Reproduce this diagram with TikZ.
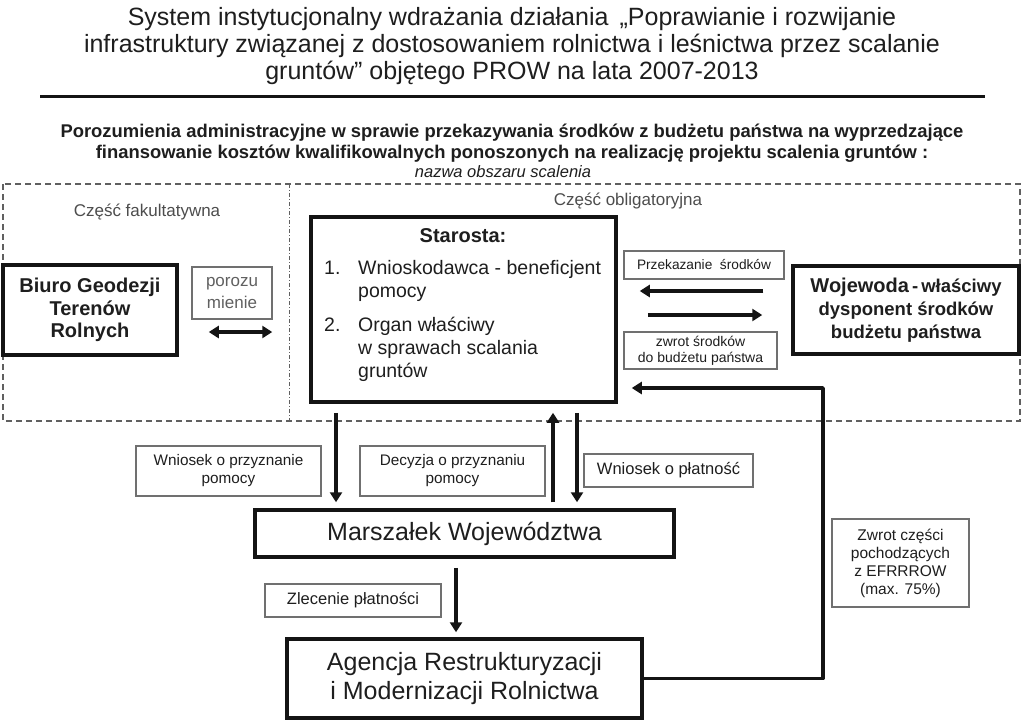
\documentclass[tikz,border=0pt]{standalone}
\usepackage{fontspec}
\setmainfont{Liberation Sans}
\usetikzlibrary{arrows.meta}
\definecolor{ink}{HTML}{1E1E1E}
\definecolor{frame}{HTML}{141414}
\definecolor{thin}{HTML}{707070}
\definecolor{dashc}{HTML}{606060}
\newcommand\fsz[2]{\fontsize{#1}{#2}\selectfont}
\tikzset{
 bigbox/.style={draw=frame, line width=3.5pt, inner sep=0pt, align=center, text=ink},
 labbox/.style={draw=thin, line width=1.1pt, inner sep=0pt, align=center, text=ink},
 arr/.style={draw=frame, line width=3.5pt, -{Triangle[length=10pt,width=12pt]}},
 darr/.style={draw=frame, line width=3.5pt, {Triangle[length=10pt,width=12pt]}-{Triangle[length=10pt,width=12pt]}},
 txt/.style={inner sep=0pt, align=center, text=ink},
}
\begin{document}
\begin{tikzpicture}[x=1pt,y=-1pt]
\useasboundingbox[fill=white] (0,0) rectangle (1024,721);
% title
\node[txt, font=\fsz{25}{27}] (title) at (512,46.5) {System instytucjonalny wdrażania działania \,„Poprawianie i rozwijanie\\infrastruktury związanej z dostosowaniem rolnictwa i leśnictwa przez scalanie\\gruntów” objętego PROW na lata 2007-2013};
\draw[frame, line width=3pt] (40,96) -- (985,96);
\node[txt, font=\fsz{18.4}{21}\bfseries] (sub) at (512,143) {Porozumienia administracyjne w sprawie przekazywania środków z budżetu państwa na wyprzedzające\\finansowanie kosztów kwalifikowalnych ponoszonych na realizację projektu scalenia gruntów :};
\node[txt, font=\fsz{16.5}{18}\itshape] (area) at (503,172) {nazwa obszaru scalenia};
% dashed regions
\draw[dashc, line width=1.5pt, dash pattern=on 6pt off 4pt] (3,184) rectangle (1020,421);
\draw[dashc, line width=0.8pt, dash pattern=on 4pt off 2pt on 1pt off 2pt] (289,184) -- (289,421);
\node[txt, text=dashc!80!black, font=\fsz{17}{19}] (fak) at (147,212) {Część fakultatywna};
\node[txt, text=dashc!80!black, font=\fsz{17}{19}] (obl) at (628,201) {Część obligatoryjna};
% main boxes
\node[bigbox, minimum width=174pt, minimum height=90pt, font=\fsz{20}{22.5}\bfseries] (biuro) at (90,310) {Biuro Geodezji\\Terenów\\Rolnych};
\node[labbox, minimum width=80pt, minimum height=52pt, text=dashc, font=\fsz{17}{22}] (poroz) at (232,293) {porozu\\mienie};
\node[bigbox, minimum width=305pt, minimum height=185pt] (starosta) at (463.5,309.5) {};
\node[txt, font=\fsz{20}{23}\bfseries] (starostaT) at (463,236) {Starosta:};
\node[txt, anchor=north west, align=left, font=\fsz{19.5}{23}] (list) at (324,260) {\makebox[34pt][l]{1.}Wnioskodawca - beneficjent\\\hspace*{34pt}pomocy\\[11pt]\makebox[34pt][l]{2.}Organ właściwy\\\hspace*{34pt}w sprawach scalania\\\hspace*{34pt}gruntów};
\node[labbox, minimum width=160pt, minimum height=28pt, font=\fsz{13.7}{15}] (przek) at (704,265) {Przekazanie \ środków};
\node[labbox, minimum width=153pt, minimum height=37pt, font=\fsz{14}{16}] (zwrot) at (700.5,350.5) {zwrot środków\\do budżetu państwa\rule[-3pt]{0pt}{0pt}};
\node[bigbox, minimum width=226pt, minimum height=88pt, font=\fsz{18.5}{23}\bfseries] (woj) at (906,310) {{\fsz{20}{23}Wojewoda}\,-\,właściwy\\dysponent środków\\budżetu państwa};
\node[bigbox, minimum width=419pt, minimum height=47pt, font=\fsz{25}{29}] (marsz) at (464.5,533.5) {Marszałek Województwa};
\node[labbox, minimum width=185pt, minimum height=50pt, font=\fsz{15.3}{18}] (wniosek) at (228.5,471) {Wniosek o przyznanie\\pomocy};
\node[labbox, minimum width=185pt, minimum height=50pt, font=\fsz{15.3}{18}] (decyzja) at (452.5,471) {Decyzja o przyznaniu\\pomocy};
\node[labbox, minimum width=169pt, minimum height=33pt, font=\fsz{16.5}{18}] (wplat) at (668.5,470.5) {Wniosek o płatność};
\node[labbox, minimum width=176pt, minimum height=33pt, font=\fsz{16.5}{18}] (zlec) at (353,600.5) {Zlecenie płatności};
\node[bigbox, minimum width=355pt, minimum height=79pt, font=\fsz{25}{29}] (arimr) at (464.5,678.5) {Agencja Restrukturyzacji\\i Modernizacji Rolnictwa};
\node[labbox, minimum width=137pt, minimum height=88pt, font=\fsz{15.5}{18}] (zcz) at (900.5,563) {Zwrot części\\pochodzących\\z EFRRROW\\(max. 75\%)};
% connectors
\coordinate (yporo) at (240,332);
\draw[darr, shorten <=30pt, shorten >=37pt] (biuro.east |- yporo) -- (starosta.west |- yporo);
\coordinate (ya) at (700,291);
\coordinate (yb) at (700,315);
\draw[arr, shorten <=28pt, shorten >=22pt] (woj.west |- ya) -- (starosta.east |- ya);
\draw[arr, shorten <=30pt, shorten >=29pt] (starosta.east |- yb) -- (woj.west |- yb);
\draw[arr, shorten <=9pt, shorten >=6pt] ([xshift=-127.5pt]starosta.south) -- ([xshift=-128.5pt]marsz.north);
\draw[arr, shorten <=6pt, shorten >=9pt] ([xshift=88.5pt]marsz.north) -- ([xshift=89.5pt]starosta.south);
\draw[arr, shorten <=9pt, shorten >=6pt] ([xshift=113.5pt]starosta.south) -- ([xshift=112.5pt]marsz.north);
\draw[arr, shorten <=9pt, shorten >=5pt] ([xshift=-8.5pt]marsz.south) -- ([xshift=-8.5pt]arimr.north);
\coordinate (ret) at (823,388);
\draw[arr, line join=round, shorten >=14pt] (arimr.east) -| (ret) -- (starosta.east |- ret);
\end{tikzpicture}
\end{document}
